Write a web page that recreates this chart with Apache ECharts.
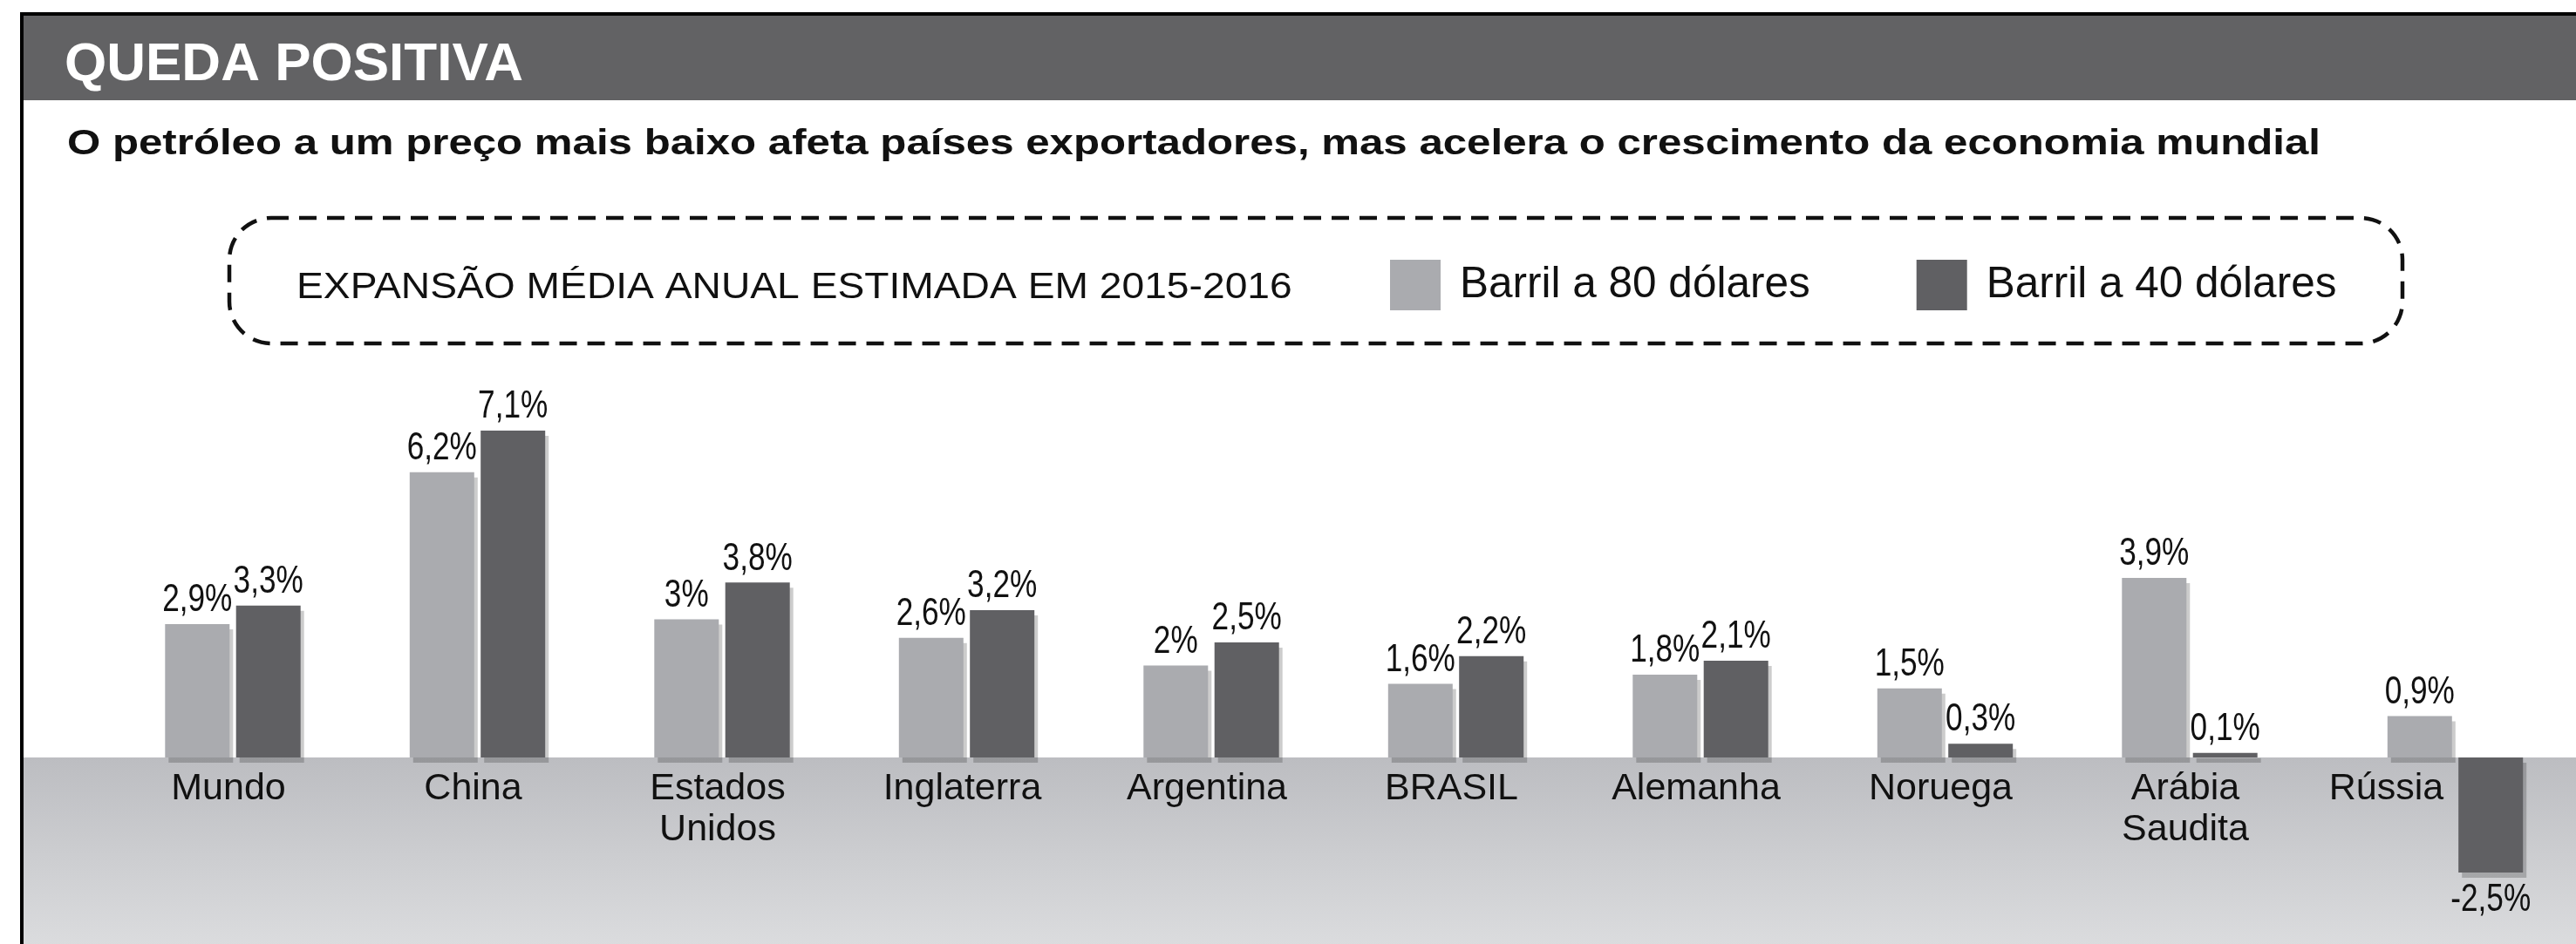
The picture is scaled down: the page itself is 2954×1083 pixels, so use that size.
<!DOCTYPE html>
<html>
<head>
<meta charset="utf-8">
<script src="https://cdn.jsdelivr.net/npm/echarts@6/dist/echarts.min.js"></script>
<style>
  html, body { margin: 0; padding: 0; background: #ffffff; }
  #chart { width: 2954px; height: 1083px; }
</style>
</head>
<body>
<div id="chart"></div>
<script>
// Countries and estimated average annual growth (%), 2015-2016
const categories = ['Mundo', 'China', 'Estados\nUnidos', 'Inglaterra', 'Argentina', 'BRASIL', 'Alemanha', 'Noruega', 'Arábia\nSaudita', 'Rússia'];
const barril80 = [2.9, 6.2, 3, 2.6, 2, 1.6, 1.8, 1.5, 3.9, 0.9];
const barril40 = [3.3, 7.1, 3.8, 3.2, 2.5, 2.2, 2.1, 0.3, 0.1, -2.5];
const seriesNames = ['Barril a 80 dólares', 'Barril a 40 dólares'];
const legendTitle = 'EXPANSÃO MÉDIA ANUAL ESTIMADA EM 2015-2016';
const headline = 'QUEDA POSITIVA';
const subtitle = 'O petróleo a um preço mais baixo afeta países exportadores, mas acelera o crescimento da economia mundial';

// the last country sits in its own slot, pushed a little to the right
const mainCount = 9;

const FONT = "'Liberation Sans', Arial, Helvetica, sans-serif";
const LIGHT = '#aaabaf';
const DARK = '#606063';
const BAR_W = 74;
const GAP_RATIO = 0.1;
const LABEL_GAP = 5;

const chart = echarts.init(document.getElementById('chart'), null, { renderer: 'canvas' });

const pct = v => String(v).replace('.', ',') + '%';

const Y_MIN = -3, Y_MAX = 8;
const gridTop = 446.6, gridHeight = 580.8;
const pxPerUnit = gridHeight / (Y_MAX - Y_MIN);

const barBase = {
  type: 'bar',
  barWidth: BAR_W,
  barGap: (GAP_RATIO * 100) + '%',
  emphasis: { disabled: true },
  animation: false
};

function barSeries(gridIndex, name, values, color) {
  return Object.assign({}, barBase, {
    name: name, xAxisIndex: gridIndex, yAxisIndex: gridIndex,
    data: values,
    itemStyle: {
      color: color,
      shadowColor: 'rgba(0,0,0,0.2)',
      shadowBlur: 0,
      shadowOffsetX: 4,
      shadowOffsetY: 6
    }
  });
}

// value labels in a condensed face, placed over (or under) each bar
function labelSeries(gridIndex, values, side) {
  return {
    type: 'custom', xAxisIndex: gridIndex, yAxisIndex: gridIndex, z: 5, silent: true,
    data: values.map((v, i) => [i, v]),
    encode: { x: 0, y: 1 },
    renderItem: (params, api) => {
      const v = api.value(1);
      const p = api.coord([api.value(0), v]);
      const dx = side * BAR_W * (1 + GAP_RATIO) / 2;
      return {
        type: 'text',
        x: p[0] + dx,
        y: p[1] + (v >= 0 ? -LABEL_GAP : LABEL_GAP + 5),
        scaleX: 0.8,
        style: {
          text: pct(v), font: '44px ' + FONT, fill: '#111',
          align: 'center', verticalAlign: v >= 0 ? 'bottom' : 'top'
        }
      };
    }
  };
}

function seriesFor(gridIndex, from, to) {
  const a = barril80.slice(from, to), b = barril40.slice(from, to);
  return [
    barSeries(gridIndex, seriesNames[0], a, LIGHT),
    barSeries(gridIndex, seriesNames[1], b, DARK),
    labelSeries(gridIndex, a, -1),
    labelSeries(gridIndex, b, 1)
  ];
}

function xAxisFor(gridIndex, cats, labelPadding) {
  return {
    type: 'category', gridIndex: gridIndex, data: cats, position: 'bottom',
    // raise the axis from the grid bottom up to the zero line
    offset: Y_MIN * pxPerUnit,
    axisLine: { show: false, onZero: false }, axisTick: { show: false }, splitLine: { show: false },
    axisLabel: {
      interval: 0, margin: 13, fontFamily: FONT, fontSize: 43, lineHeight: 47,
      color: '#111', padding: labelPadding
    }
  };
}

function yAxisFor(gridIndex) {
  return { type: 'value', gridIndex: gridIndex, min: Y_MIN, max: Y_MAX, show: false };
}

const option = {
  backgroundColor: '#ffffff',
  animation: false,
  grid: [
    { left: 126.75, top: gridTop, width: 2524.5, height: gridHeight, containLabel: false, outerBoundsMode: 'none' },
    { left: 2675.25, top: gridTop, width: 280.5, height: gridHeight, containLabel: false, outerBoundsMode: 'none' }
  ],
  xAxis: [
    xAxisFor(0, categories.slice(0, mainCount), [0, 10, 0, 0]),
    xAxisFor(1, categories.slice(mainCount), [0, 158, 0, 0])
  ],
  yAxis: [yAxisFor(0), yAxisFor(1)],
  legend: {
    data: seriesNames,
    left: 1589, top: 293,
    itemWidth: 58, itemHeight: 58, itemGap: 122,
    icon: 'rect',
    selectedMode: false,
    itemStyle: { shadowColor: 'transparent', shadowBlur: 0, shadowOffsetX: 0, shadowOffsetY: 0 },
    textStyle: { fontFamily: FONT, fontSize: 49.5, color: '#111', padding: [0, 0, 0, 17] }
  },
  graphic: [
    // outer frame
    { type: 'rect', z: 20, silent: true,
      shape: { x: 25, y: 16, width: 3100, height: 1200 },
      style: { fill: 'none', stroke: '#000', lineWidth: 4 } },
    // header band
    { type: 'rect', z: 1, silent: true,
      shape: { x: 27, y: 18, width: 2960, height: 97 },
      style: { fill: '#626264' } },
    { type: 'text', z: 5, silent: true, x: 74, y: 75,
      style: { text: headline, fill: '#ffffff', font: 'bold 62px ' + FONT,
               align: 'left', verticalAlign: 'middle' } },
    { type: 'text', z: 5, silent: true, x: 77, y: 166, scaleX: 1.2,
      style: { text: subtitle, fill: '#111', font: 'bold 41px ' + FONT,
               align: 'left', verticalAlign: 'middle' } },
    // legend frame
    { type: 'rect', z: 5, silent: true,
      shape: { x: 263, y: 250, width: 2492, height: 144, r: 48 },
      style: { fill: 'none', stroke: '#111', lineWidth: 4.5, lineDash: [20, 12] } },
    { type: 'text', z: 5, silent: true, x: 340, y: 330, scaleX: 1.1,
      style: { text: legendTitle, fill: '#111', font: '42px ' + FONT,
               align: 'left', verticalAlign: 'middle' } },
    // ground below the zero line
    { type: 'rect', z: -10, silent: true,
      shape: { x: 27, y: 869, width: 2960, height: 230 },
      style: {
        fill: new echarts.graphic.LinearGradient(0, 0, 0, 1, [
          { offset: 0, color: '#bcbdc1' },
          { offset: 1, color: '#dddee0' }
        ])
      } }
  ],
  series: [].concat(seriesFor(0, 0, mainCount), seriesFor(1, mainCount, categories.length))
};

chart.setOption(option);
</script>
</body>
</html>
